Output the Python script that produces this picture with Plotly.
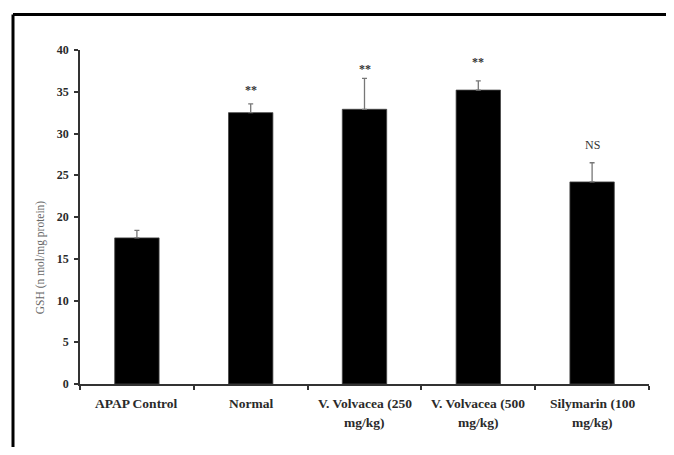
import plotly.graph_objects as go

categories = ["APAP Control", "Normal", "V. Volvacea (250<br>mg/kg)",
              "V. Volvacea (500<br>mg/kg)", "Silymarin (100<br>mg/kg)"]
gsh_values = [17.5, 32.5, 32.9, 35.2, 24.2]
gsh_errors = [0.9, 1.05, 3.7, 1.1, 2.3]
sig_labels = ["", "**", "**", "**", "NS"]
sig_y = [None, 35.2, 37.7, 38.6, 28.6]
y_ticks = [0, 5, 10, 15, 20, 25, 30, 35, 40]

OFF = 8  # default body margin of the html page
W, H = 674 - 2 * OFF, 455 - 2 * OFF
# plot area in page pixels: x 80..649, y 49.5..384
L, T = 80 - OFF, 49.5 - OFF
R = W - (649 - OFF)
B = H - (384 - OFF)
pw, ph = W - L - R, H - T - B

def px_x(px):
    return (px - OFF - L) / pw

def px_y(py):
    return (H - B - (py - OFF)) / ph

SERIF = "Liberation Serif, Times New Roman, serif"

fig = go.Figure()
fig.add_trace(go.Bar(
    x=list(range(len(categories))),
    y=gsh_values,
    width=0.39,
    marker=dict(color="black", line=dict(color="#444", width=0.8)),
    error_y=dict(type="data", array=gsh_errors, arrayminus=[0] * len(gsh_errors),
                 symmetric=False, color="#777", thickness=1.3, width=2.5),
    showlegend=False,
))

annotations = []
for i, cat in enumerate(categories):
    lines = cat.split("<br>")
    for j, line in enumerate(lines):
        annotations.append(dict(
            x=i, y=px_y(404 + j * 18.7), xref="x", yref="paper",
            text=line, showarrow=False,
            font=dict(family=SERIF, size=13.5, color="#2a2a2a", weight="bold"),
            xanchor="center", yanchor="middle",
        ))
for i, (lab, yy) in enumerate(zip(sig_labels, sig_y)):
    if lab:
        annotations.append(dict(
            x=i, y=yy, xref="x", yref="y",
            text=lab, showarrow=False,
            font=dict(family=SERIF, size=12, color="#333",
                      weight="bold" if lab == "**" else "normal"),
            xanchor="center", yanchor="middle",
        ))
annotations.append(dict(
    x=px_x(40), y=px_y(257), xref="paper", yref="paper",
    text="GSH (n mol/mg protein)", textangle=-90, showarrow=False,
    font=dict(family=SERIF, size=11.5, color="#666"),
    xanchor="center", yanchor="middle",
))

shapes = [
    dict(type="line", xref="paper", yref="paper",
         x0=px_x(13), x1=px_x(700), y0=px_y(14), y1=px_y(14),
         line=dict(color="black", width=3)),
    dict(type="line", xref="paper", yref="paper",
         x0=px_x(13), x1=px_x(13), y0=px_y(14), y1=px_y(480),
         line=dict(color="black", width=3)),
]

fig.update_layout(
    width=W, height=H,
    margin=dict(l=L, r=R, t=T, b=B),
    paper_bgcolor="white", plot_bgcolor="white",
    annotations=annotations, shapes=shapes,
    xaxis=dict(
        range=[-0.5, len(categories) - 0.5],
        tickmode="array",
        tickvals=[i - 0.5 for i in range(len(categories) + 1)],
        ticktext=[""] * (len(categories) + 1),
        showticklabels=False,
        ticks="outside", ticklen=4, tickwidth=1.5, tickcolor="#333",
        showline=True, linecolor="#333", linewidth=1.6,
        showgrid=False, zeroline=False, fixedrange=True,
    ),
    yaxis=dict(
        range=[0, 40], tickvals=y_ticks,
        ticks="outside", ticklen=4, tickwidth=1.5, tickcolor="#333",
        showline=True, linecolor="#333", linewidth=1.6,
        showgrid=False, zeroline=False,
        tickfont=dict(family=SERIF, size=12, color="#2a2a2a", weight="bold"),
        ticklabelstandoff=3,
    ),
)

fig.write_html("out.html")
